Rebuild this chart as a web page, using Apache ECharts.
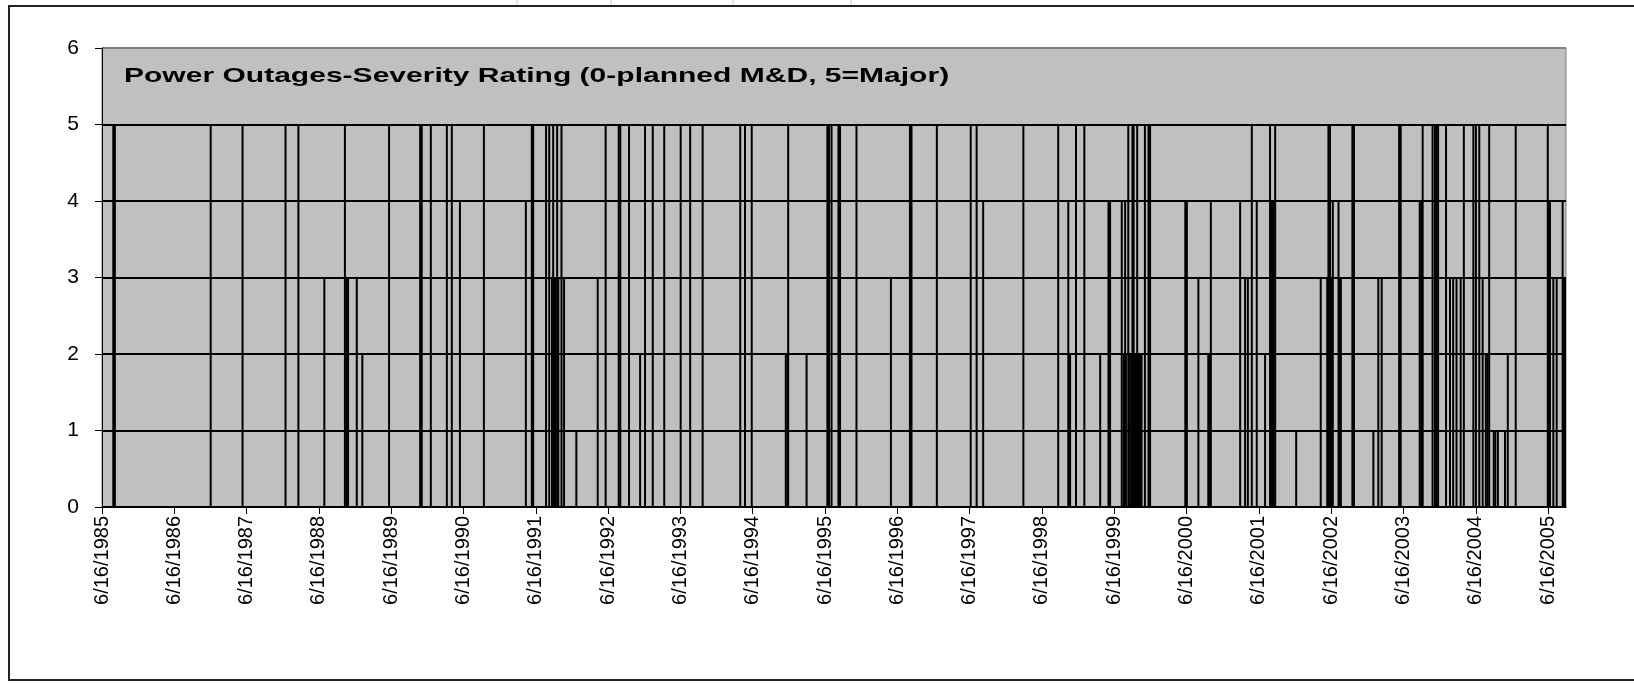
<!DOCTYPE html>
<html>
<head>
<meta charset="utf-8">
<script src="https://cdn.jsdelivr.net/npm/echarts@6/dist/echarts.min.js"></script>
<style>
html,body{margin:0;padding:0;background:#fff;}
#chart{width:1634px;height:683px;}
</style>
</head>
<body>
<div id="chart"></div>
<script>
// Outage dates and severity ratings
var outageDates = [
'1985-08-12','1985-08-20','1986-12-17','1987-05-27','1987-12-30','1988-03-04','1988-07-13','1988-10-25','1988-11-03','1988-11-10',
'1988-12-24','1989-01-21','1989-06-05','1989-11-09','1989-11-17','1990-01-02','1990-03-24','1990-04-18','1990-05-29','1990-09-27',
'1991-04-27','1991-05-27','1991-06-03','1991-08-07','1991-08-23','1991-09-06','1991-09-12','1991-09-18','1991-09-24','1991-10-02',
'1991-10-08','1991-10-24','1991-11-06','1992-01-07','1992-04-24','1992-06-03','1992-08-08','1992-08-16','1992-09-29','1992-11-24',
'1992-12-19','1993-01-27','1993-03-26','1993-06-17','1993-08-04','1993-10-06','1994-04-14','1994-05-08','1994-06-11','1994-11-30',
'1994-12-08','1994-12-12','1995-03-15','1995-06-28','1995-07-06','1995-07-19','1995-08-23','1995-08-31','1995-11-22','1996-05-14',
'1996-08-18','1996-08-26','1997-01-01','1997-06-21','1997-07-21','1997-08-23','1998-03-14','1998-09-06','1998-10-27','1998-11-01',
'1998-11-05','1998-12-05','1999-01-16','1999-04-06','1999-05-18','1999-05-26','1999-07-24','1999-08-04','1999-08-10','1999-08-14',
'1999-08-26','1999-09-02','1999-09-10','1999-09-16','1999-09-22','1999-09-28','1999-10-04','1999-10-10','1999-10-16','1999-10-24',
'1999-11-01','1999-11-18','1999-12-06','1999-12-14','2000-06-09','2000-06-17','2000-08-14','2000-10-03','2000-10-11','2000-10-16',
'2001-03-13','2001-04-07','2001-04-21','2001-05-11','2001-06-05','2001-07-17','2001-08-11','2001-08-21','2001-08-29','2001-09-06',
'2001-12-21','2002-04-24','2002-05-27','2002-06-02','2002-06-10','2002-06-18','2002-06-24','2002-07-23','2002-07-29','2002-08-04',
'2002-10-01','2002-10-09','2003-01-15','2003-02-09','2003-02-26','2003-05-25','2003-06-02','2003-09-06','2003-09-14','2003-09-18',
'2003-09-21','2003-11-10','2003-11-22','2003-11-30','2003-12-08','2004-01-17','2004-02-06','2004-02-22','2004-03-10','2004-03-31',
'2004-04-16','2004-06-03','2004-06-16','2004-07-03','2004-07-20','2004-08-05','2004-08-13','2004-08-22','2004-09-14','2004-09-22',
'2004-10-05','2004-11-10','2004-11-24','2005-01-03','2005-06-14','2005-06-19','2005-06-25','2005-07-12','2005-07-29','2005-08-28',
'2005-09-01','2005-09-09'
];
var severity = [
5,5,5,5,5,5,3,5,3,3,
3,2,5,5,5,5,5,5,4,5,
4,5,5,5,5,3,5,3,3,5,
3,5,3,1,3,5,5,5,5,2,
5,5,5,5,5,5,5,5,5,2,
2,5,2,5,5,5,5,5,5,3,
5,5,5,5,5,4,5,5,4,2,
2,5,5,2,4,4,4,2,4,2,
5,2,2,5,5,2,2,5,2,2,
2,5,5,5,4,4,3,2,2,4,
4,3,3,5,4,2,5,4,4,5,
1,3,3,5,5,3,4,4,3,3,
5,5,1,3,3,5,5,4,4,3,
5,5,5,5,5,5,3,3,3,3,
5,5,5,5,3,2,2,5,1,1,
1,1,2,5,5,4,4,3,3,4,
3,3
];
var tickLabels = ['6/16/1985','6/16/1986','6/16/1987','6/16/1988','6/16/1989','6/16/1990','6/16/1991','6/16/1992','6/16/1993','6/16/1994',
'6/16/1995','6/16/1996','6/16/1997','6/16/1998','6/16/1999','6/16/2000','6/16/2001','6/16/2002','6/16/2003','6/16/2004','6/16/2005'];
var axisStart = '1985-06-16';
var axisEnd = '2005-09-14';
var chartTitle = 'Power Outages-Severity Rating (0-planned M&D, 5=Major)';

var DAY = 86400000;
function toDay(y, m, d){ return Math.round(Date.UTC(y, m-1, d) / DAY); }
function parseMDY(s){ var p = s.split('/'); return toDay(+p[2], +p[0], +p[1]); }
function parseISO(s){ var p = s.split('-'); return toDay(+p[0], +p[1], +p[2]); }
var tickValues = tickLabels.map(parseMDY);
var labelMap = {};
tickValues.forEach(function(v,i){ labelMap[v] = tickLabels[i]; });
var seriesData = outageDates.map(function(d,i){ return [parseISO(d), severity[i]]; });

var sheetMarks = [517, 611, 733, 851];
var sheetGraphics = sheetMarks.map(function(x){
  return {type:'line', shape:{x1:x, y1:0, x2:x, y2:5}, style:{stroke:'#c8c8c8', lineWidth:1}, silent:true};
});

var chart = echarts.init(document.getElementById('chart'), null, {renderer:'canvas'});
chart.setOption({
  animation:false,
  backgroundColor:'#ffffff',
  grid:{left:102, right:68, top:48, bottom:176, show:true, backgroundColor:'#c0c0c0', borderColor:'#808080', borderWidth:1},
  xAxis:{
    type:'value', min:parseISO(axisStart), max:parseISO(axisEnd), scale:true,
    axisLine:{show:true, lineStyle:{color:'#000', width:1}},
    axisTick:{show:true, length:7, inside:false, customValues:tickValues, lineStyle:{color:'#000', width:1}},
    axisLabel:{show:true, rotate:90, margin:9, customValues:tickValues, color:'#000', fontFamily:'Liberation Sans', fontSize:20,
      formatter:function(v){ return labelMap[Math.round(v)] || ''; }},
    splitLine:{show:false}
  },
  yAxis:{
    type:'value', min:0, max:6, interval:1,
    axisLine:{show:true, lineStyle:{color:'#000', width:1}},
    axisTick:{show:true, length:7, inside:false, lineStyle:{color:'#000', width:1}},
    axisLabel:{color:'#000', fontFamily:'Liberation Sans', fontSize:21, margin:23},
    splitLine:{show:true, lineStyle:{color:['#000','#000','#000','#000','#000','#000','#808080'], width:2}}
  },
  series:[{
    type:'bar', data:seriesData, barWidth:2, itemStyle:{color:'#000'}, z:3
  }],
  graphic:[
    {type:'rect', shape:{x:9, y:6, width:1640, height:674}, style:{fill:null, stroke:'#222', lineWidth:2}, z:10, silent:true},
    {type:'text', x:124, y:76, scaleX:1.43, z:20,
      style:{text:chartTitle, font:'bold 21px "Liberation Sans", Arial, sans-serif', fill:'#000', verticalAlign:'middle'}}
  ].concat(sheetGraphics)
});
</script>
</body>
</html>
